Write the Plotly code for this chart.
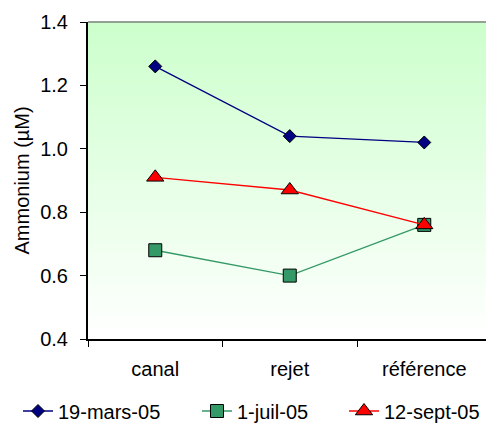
import plotly.graph_objects as go

categories = ["canal", "rejet", "référence"]
series_names = ["19-mars-05", "1-juil-05", "12-sept-05"]
mars = [1.26, 1.04, 1.02]
juil = [0.68, 0.60, 0.76]
sept = [0.91, 0.87, 0.76]
y_ticks = [0.4, 0.6, 0.8, 1.0, 1.2, 1.4]

FONT = "Liberation Sans, Arial, sans-serif"

fig = go.Figure()
styles = [
    (mars, "#000080", "diamond", 10, "legend"),
    (juil, "#339966", "square", 13, "legend2"),
    (sept, "#FF0000", "triangle-up", 15, "legend3"),
]
for name, (vals, col, sym, sz, lg) in zip(series_names, styles):
    fig.add_trace(go.Scatter(
        x=categories, y=vals, name=name, mode="lines+markers",
        line=dict(color=col, width=1.3),
        marker=dict(symbol=sym, size=sz, color=col, line=dict(color="black", width=1)),
        legend=lg,
    ))

# gradient background bands
shapes = []
n = 60
top = (0xCC, 0xFF, 0xCC)
bot = (0xFF, 0xFF, 0xFF)
for i in range(n):
    t = (i + 0.5) / n
    c = tuple(round(bot[k] + (top[k] - bot[k]) * t) for k in range(3))
    shapes.append(dict(type="rect", xref="x domain", yref="y domain",
                       x0=0, x1=1, y0=i / n, y1=(i + 1) / n + 0.002,
                       fillcolor="rgb(%d,%d,%d)" % c, line=dict(width=0), layer="below"))
shapes.append(dict(type="line", xref="x domain", yref="y domain", x0=0, x1=1, y0=1, y1=1,
                   line=dict(color="#808080", width=1.5), layer="above"))
fig.update_layout(shapes=shapes)

PW = 398.0
def lg(px):
    return dict(orientation="h", xref="paper", yref="container",
                x=(px - 88) / PW, xanchor="left", y=1 - 411 / 423, yanchor="middle",
                font=dict(size=20), bgcolor="rgba(0,0,0,0)")

fig.update_layout(
    width=486, height=423,
    margin=dict(l=88, r=0, t=22, b=84),
    paper_bgcolor="white", plot_bgcolor="white",
    font=dict(family=FONT, size=20, color="black"),
    showlegend=True,
    legend=lg(18), legend2=lg(197), legend3=lg(344),
    annotations=[dict(text="Ammonium (µM)", xref="paper", yref="paper", x=0, y=0.5,
                      xanchor="center", yanchor="middle", xshift=-67, textangle=-90,
                      showarrow=False, font=dict(size=20))],
)
fig.update_xaxes(
    type="category", range=[-0.5, 2.459], tickson="boundaries",
    ticks="outside", ticklen=6, tickcolor="black", tickwidth=1,
    showline=True, linecolor="black", linewidth=2, showgrid=False, zeroline=False,
    ticklabelstandoff=11,
)
fig.update_yaxes(
    range=[0.4, 1.4], tickvals=y_ticks, ticktext=["%.1f" % v for v in y_ticks],
    ticks="outside", ticklen=6, tickcolor="black", tickwidth=1,
    showline=True, linecolor="black", linewidth=2, showgrid=False, zeroline=False,
    ticklabelstandoff=8,
)
fig.write_html("out.html")
